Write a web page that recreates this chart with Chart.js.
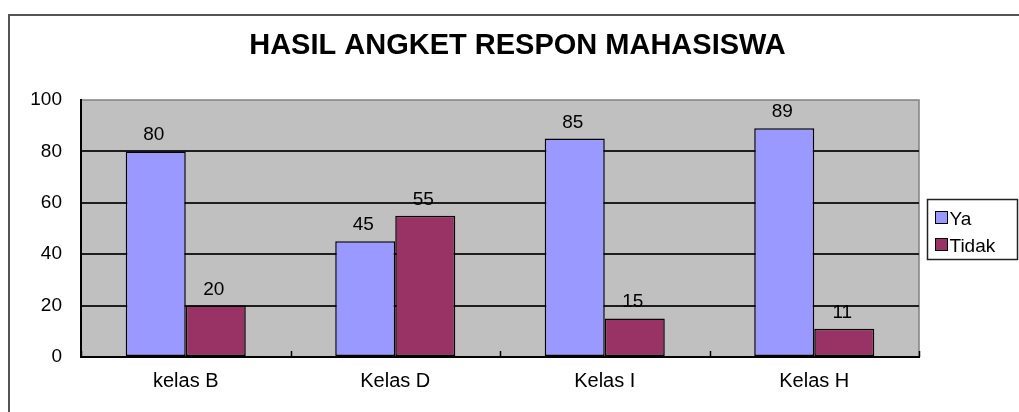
<!DOCTYPE html>
<html>
<head>
<meta charset="utf-8">
<script src="https://cdn.jsdelivr.net/npm/chart.js@4.4.0/dist/chart.umd.min.js"></script>
<style>
  html,body{margin:0;padding:0;background:#fff;overflow:hidden}
  canvas{display:block}
</style>
</head>
<body>
<canvas id="chart" width="1019" height="412"></canvas>
<script>
// data
const categories = ["kelas B", "Kelas D", "Kelas I", "Kelas H"];
const yaValues = [80, 45, 85, 89];
const tidakValues = [20, 55, 15, 11];
const yTicks = [0, 20, 40, 60, 80, 100];
const seriesNames = ["Ya", "Tidak"];
const seriesColors = ["#9999ff", "#993366"];

const FONT = "'Liberation Sans', Arial, sans-serif";
Chart.defaults.font.family = FONT;
Chart.defaults.color = "#000";

/* ---- frame + grey plot area ---- */
const backdrop = {
  id: "backdrop",
  beforeDraw(chart){
    const {ctx, chartArea: a} = chart;
    ctx.save();
    ctx.strokeStyle = "#555";
    ctx.lineWidth = 2;
    ctx.strokeRect(9, 15, 1200, 600);
    ctx.fillStyle = "#c0c0c0";
    ctx.fillRect(a.left, a.top, a.right - a.left, a.bottom - a.top);
    ctx.strokeStyle = "#808080";
    ctx.lineWidth = 1.5;
    ctx.beginPath();
    ctx.moveTo(a.left, a.top);
    ctx.lineTo(a.right, a.top);
    ctx.lineTo(a.right, a.bottom);
    ctx.stroke();
    ctx.restore();
  }
};

/* ---- value labels + category boundary ticks ---- */
const valueLabels = {
  id: "valueLabels",
  afterDatasetsDraw(chart){
    const {ctx} = chart;
    const x = chart.scales.x;
    ctx.save();
    ctx.strokeStyle = "#000";
    ctx.lineWidth = 1.5;
    for(let i = 0; i <= categories.length; i++){
      const px = Math.round(x.getPixelForValue(i - 0.5)) + 0.5;
      ctx.beginPath();
      ctx.moveTo(px, x.top);
      ctx.lineTo(px, x.top - 6);
      ctx.stroke();
    }
    ctx.font = "19px " + FONT;
    ctx.fillStyle = "#000";
    ctx.textAlign = "center";
    ctx.textBaseline = "alphabetic";
    chart.data.datasets.forEach((ds, di)=>{
      chart.getDatasetMeta(di).data.forEach((bar, i)=>{
        ctx.fillText(String(ds.data[i]), bar.x - 2, bar.y - 11);
      });
    });
    ctx.restore();
  }
};

/* ---- boxed legend on the right ---- */
const boxLegend = {
  id: "boxLegend",
  afterDraw(chart){
    const {ctx} = chart;
    const a = chart.chartArea;
    const bx = a.right + 8.5, by = 199.5;
    ctx.save();
    ctx.strokeStyle = "#222";
    ctx.lineWidth = 1.5;
    ctx.strokeRect(bx, by, 90, 60);
    ctx.font = "19px " + FONT;
    ctx.textBaseline = "alphabetic";
    ctx.textAlign = "left";
    chart.data.datasets.forEach((ds, i)=>{
      const y = by + 12 + i * 27;
      ctx.fillStyle = ds.backgroundColor;
      ctx.fillRect(bx + 8, y, 12, 12);
      ctx.strokeStyle = "#000";
      ctx.lineWidth = 1;
      ctx.strokeRect(bx + 8, y, 12, 12);
      ctx.fillStyle = "#000";
      ctx.fillText(ds.label, bx + 22, y + 13.5);
    });
    ctx.restore();
  }
};

new Chart(document.getElementById("chart"), {
  type: "bar",
  data: {
    labels: categories,
    datasets: [
      { label: seriesNames[0], data: yaValues, backgroundColor: seriesColors[0] },
      { label: seriesNames[1], data: tidakValues, backgroundColor: seriesColors[1] }
    ].map(d => Object.assign(d, {
      yAxisID: "y",
      borderColor: "#000",
      borderWidth: 1.5,
      borderSkipped: false,
      categoryPercentage: 0.573,
      barPercentage: 1.0
    }))
  },
  options: {
    responsive: false,
    animation: false,
    layout: { padding: { left: 16, right: 0, top: 0, bottom: 0 } },
    plugins: {
      legend: { display: false },
      tooltip: { enabled: false },
      title: {
        display: true,
        text: "HASIL ANGKET RESPON MAHASISWA",
        color: "#000",
        font: { size: 29, weight: "bold" },
        padding: { top: 28.6, bottom: 36.6 }
      }
    },
    scales: {
      x: {
        grid: { display: false, drawTicks: false },
        border: { display: true, color: "#000", width: 2 },
        ticks: { padding: 12, font: { size: 20 }, color: "#000" },
        afterFit(s){ s.height = 55; }
      },
      y: {
        position: "left",
        min: 0, max: 100,
        afterBuildTicks(s){ s.ticks = yTicks.map(v => ({ value: v })); },
        grid: {
          drawTicks: false,
          lineWidth: 2,
          color: c => (c.tick && c.tick.value === 100) ? "rgba(0,0,0,0)" : "#1e1e1e"
        },
        border: { display: true, color: "#000", width: 2 },
        ticks: { padding: 19, font: { size: 19 }, color: "#000" },
        afterFit(s){ s.width = 65; }
      },
      y2: {
        position: "right",
        min: 0, max: 100,
        grid: { display: false, drawOnChartArea: false, drawTicks: false },
        border: { display: false },
        ticks: { display: false },
        afterFit(s){ s.width = 100; }
      }
    }
  },
  plugins: [backdrop, valueLabels, boxLegend]
});
</script>
</body>
</html>
